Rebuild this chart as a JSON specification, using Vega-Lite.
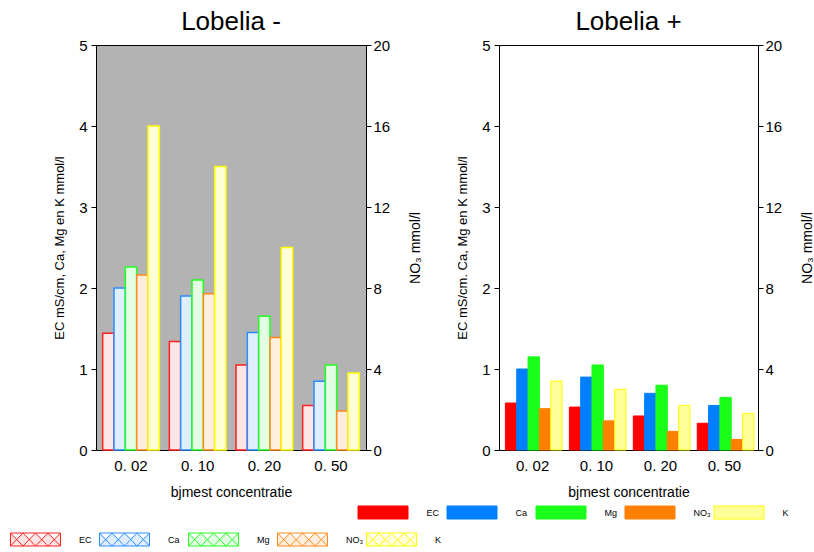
{
  "$schema": "https://vega.github.io/schema/vega-lite/v6.json",
  "padding": {"left": 9, "top": 8, "right": 5, "bottom": 3},
  "background": "white",
  "config": {
    "font": "Liberation Sans",
    "axis": {"grid": false, "domain": false, "tickColor": "black", "labelColor": "black", "titleColor": "black", "labelFont": "Liberation Sans", "titleFont": "Liberation Sans", "titleFontWeight": "normal"},
    "title": {"font": "Liberation Sans", "fontWeight": "normal", "fontSize": 26, "color": "black", "offset": 3}
  },
  "data": {"values": [
    {"panel": "minus", "conc": "0. 02", "series": "EC", "value": 1.44},
    {"panel": "minus", "conc": "0. 02", "series": "Ca", "value": 2.0},
    {"panel": "minus", "conc": "0. 02", "series": "Mg", "value": 2.26},
    {"panel": "minus", "conc": "0. 02", "series": "NO₃", "value": 2.16},
    {"panel": "minus", "conc": "0. 02", "series": "K", "value": 4.0},
    {"panel": "minus", "conc": "0. 10", "series": "EC", "value": 1.34},
    {"panel": "minus", "conc": "0. 10", "series": "Ca", "value": 1.9},
    {"panel": "minus", "conc": "0. 10", "series": "Mg", "value": 2.1},
    {"panel": "minus", "conc": "0. 10", "series": "NO₃", "value": 1.93},
    {"panel": "minus", "conc": "0. 10", "series": "K", "value": 3.5},
    {"panel": "minus", "conc": "0. 20", "series": "EC", "value": 1.05},
    {"panel": "minus", "conc": "0. 20", "series": "Ca", "value": 1.45},
    {"panel": "minus", "conc": "0. 20", "series": "Mg", "value": 1.65},
    {"panel": "minus", "conc": "0. 20", "series": "NO₃", "value": 1.39},
    {"panel": "minus", "conc": "0. 20", "series": "K", "value": 2.5},
    {"panel": "minus", "conc": "0. 50", "series": "EC", "value": 0.55},
    {"panel": "minus", "conc": "0. 50", "series": "Ca", "value": 0.85},
    {"panel": "minus", "conc": "0. 50", "series": "Mg", "value": 1.05},
    {"panel": "minus", "conc": "0. 50", "series": "NO₃", "value": 0.48},
    {"panel": "minus", "conc": "0. 50", "series": "K", "value": 0.95},
    {"panel": "plus", "conc": "0. 02", "series": "EC", "value": 0.58},
    {"panel": "plus", "conc": "0. 02", "series": "Ca", "value": 1.0},
    {"panel": "plus", "conc": "0. 02", "series": "Mg", "value": 1.15},
    {"panel": "plus", "conc": "0. 02", "series": "NO₃", "value": 0.51},
    {"panel": "plus", "conc": "0. 02", "series": "K", "value": 0.85},
    {"panel": "plus", "conc": "0. 10", "series": "EC", "value": 0.53},
    {"panel": "plus", "conc": "0. 10", "series": "Ca", "value": 0.9},
    {"panel": "plus", "conc": "0. 10", "series": "Mg", "value": 1.05},
    {"panel": "plus", "conc": "0. 10", "series": "NO₃", "value": 0.36},
    {"panel": "plus", "conc": "0. 10", "series": "K", "value": 0.75},
    {"panel": "plus", "conc": "0. 20", "series": "EC", "value": 0.42},
    {"panel": "plus", "conc": "0. 20", "series": "Ca", "value": 0.7},
    {"panel": "plus", "conc": "0. 20", "series": "Mg", "value": 0.8},
    {"panel": "plus", "conc": "0. 20", "series": "NO₃", "value": 0.23},
    {"panel": "plus", "conc": "0. 20", "series": "K", "value": 0.55},
    {"panel": "plus", "conc": "0. 50", "series": "EC", "value": 0.33},
    {"panel": "plus", "conc": "0. 50", "series": "Ca", "value": 0.55},
    {"panel": "plus", "conc": "0. 50", "series": "Mg", "value": 0.65},
    {"panel": "plus", "conc": "0. 50", "series": "NO₃", "value": 0.13},
    {"panel": "plus", "conc": "0. 50", "series": "K", "value": 0.45}
  ]},
  "bounds": "flush",
  "spacing": 133,
  "hconcat": [
    {
      "title": {"text": "Lobelia -"},
      "width": 270,
      "height": 405,
      "view": {"fill": "#b3b3b3", "stroke": "black", "strokeWidth": 1},
      "transform": [{"filter": "datum.panel == 'minus'"}],
      "layer": [
        {
          "mark": {"type": "bar", "strokeWidth": 1.5},
          "encoding": {
            "x": {"field": "conc", "type": "nominal", "sort": ["0. 02", "0. 10", "0. 20", "0. 50"],
              "scale": {"paddingInner": 0.15, "paddingOuter": 0.1},
              "axis": {"labelAngle": 0, "ticks": false, "labelFontSize": 15, "labelPadding": 8, "title": "bjmest   concentratie", "titleFontSize": 14, "titlePadding": 12}},
            "xOffset": {"field": "series", "type": "nominal", "sort": ["EC", "Ca", "Mg", "NO₃", "K"], "scale": {"paddingInner": 0, "paddingOuter": 0}},
            "y": {"field": "value", "type": "quantitative", "scale": {"domain": [0, 5], "nice": false},
              "axis": {"values": [0, 1, 2, 3, 4, 5], "tickSize": 5, "labelFontSize": 15, "labelPadding": 4, "title": "EC mS/cm,  Ca,  Mg en K mmol/l", "titleFontSize": 13, "titlePadding": 12}},
            "fill": {"field": "series", "type": "nominal",
              "scale": {"domain": ["EC", "Ca", "Mg", "NO₃", "K"], "range": ["#ffe6e6", "#e0efff", "#e3ffe3", "#ffeedd", "#ffffd8"]},
              "legend": {"orient": "none", "legendX": -86, "legendY": 469, "direction": "horizontal", "title": null, "gridAlign": "all", "columnPadding": 0, "padding": 0,
                "symbolType": "M-1,-0.26H1V0.26H-1Z M-1,-0.26L-0.5,0.26L0,-0.26L0.5,0.26L1,-0.26 M-1,0.26L-0.5,-0.26L0,0.26L0.5,-0.26L1,0.26",
                "symbolSize": 2500, "symbolStrokeWidth": 1, "labelFontSize": 9, "labelOffset": 18, "labelColor": "black"}},
            "stroke": {"field": "series", "type": "nominal",
              "scale": {"domain": ["EC", "Ca", "Mg", "NO₃", "K"], "range": ["#ff2020", "#2a8cff", "#22ff22", "#ff8a1a", "#ffff00"]},
              "legend": {"orient": "none", "legendX": -86, "legendY": 469, "direction": "horizontal", "title": null, "gridAlign": "all", "columnPadding": 0, "padding": 0,
                "symbolType": "M-1,-0.26H1V0.26H-1Z M-1,-0.26L-0.5,0.26L0,-0.26L0.5,0.26L1,-0.26 M-1,0.26L-0.5,-0.26L0,0.26L0.5,-0.26L1,0.26",
                "symbolSize": 2500, "symbolStrokeWidth": 1, "labelFontSize": 9, "labelOffset": 18, "labelColor": "black"}}
          }
        },
        {
          "mark": {"type": "rule", "opacity": 0},
          "encoding": {
            "y": {"datum": 0, "type": "quantitative", "scale": {"domain": [0, 20], "nice": false},
              "axis": {"orient": "right", "values": [0, 4, 8, 12, 16, 20], "tickSize": 5, "labelFontSize": 15, "labelPadding": 2, "title": "NO₃ mmol/l", "titleFontSize": 14, "titleAngle": 270, "titleBaseline": "top", "titlePadding": 19}}
          }
        }
      ],
      "resolve": {"scale": {"y": "independent"}}
    },
    {
      "title": {"text": "Lobelia +"},
      "width": 259,
      "height": 405,
      "view": {"fill": "white", "stroke": "black", "strokeWidth": 1},
      "transform": [{"filter": "datum.panel == 'plus'"}],
      "layer": [
        {
          "mark": {"type": "bar", "strokeWidth": 1},
          "encoding": {
            "x": {"field": "conc", "type": "nominal", "sort": ["0. 02", "0. 10", "0. 20", "0. 50"],
              "scale": {"paddingInner": 0.15, "paddingOuter": 0.1},
              "axis": {"labelAngle": 0, "ticks": false, "labelFontSize": 15, "labelPadding": 8, "title": "bjmest   concentratie", "titleFontSize": 14, "titlePadding": 12}},
            "xOffset": {"field": "series", "type": "nominal", "sort": ["EC", "Ca", "Mg", "NO₃", "K"], "scale": {"paddingInner": 0, "paddingOuter": 0}},
            "y": {"field": "value", "type": "quantitative", "scale": {"domain": [0, 5], "nice": false},
              "axis": {"values": [0, 1, 2, 3, 4, 5], "tickSize": 5, "labelFontSize": 15, "labelPadding": 4, "title": "EC mS/cm.  Ca,  Mg en K mmol/l", "titleFontSize": 13, "titlePadding": 12}},
            "fill": {"field": "series", "type": "nominal",
              "scale": {"domain": ["EC", "Ca", "Mg", "NO₃", "K"], "range": ["#ff0000", "#0080ff", "#1aff1a", "#ff8000", "#ffff99"]},
              "legend": {"orient": "none", "legendX": -141.5, "legendY": 442, "direction": "horizontal", "title": null, "gridAlign": "all", "columnPadding": 0, "padding": 0,
                "symbolType": "M-1,-0.26H1V0.26H-1Z", "symbolSize": 2500, "symbolStrokeWidth": 1, "labelFontSize": 9, "labelOffset": 18, "labelColor": "black"}},
            "stroke": {"field": "series", "type": "nominal",
              "scale": {"domain": ["EC", "Ca", "Mg", "NO₃", "K"], "range": ["#ff0000", "#0080ff", "#1aff1a", "#ff8000", "#ffff00"]},
              "legend": {"orient": "none", "legendX": -141.5, "legendY": 442, "direction": "horizontal", "title": null, "gridAlign": "all", "columnPadding": 0, "padding": 0,
                "symbolType": "M-1,-0.26H1V0.26H-1Z", "symbolSize": 2500, "symbolStrokeWidth": 1, "labelFontSize": 9, "labelOffset": 18, "labelColor": "black"}}
          }
        },
        {
          "mark": {"type": "rule", "opacity": 0},
          "encoding": {
            "y": {"datum": 0, "type": "quantitative", "scale": {"domain": [0, 20], "nice": false},
              "axis": {"orient": "right", "values": [0, 4, 8, 12, 16, 20], "tickSize": 5, "labelFontSize": 15, "labelPadding": 2, "title": "NO₃ mmol/l", "titleFontSize": 14, "titleAngle": 270, "titleBaseline": "top", "titlePadding": 19}}
          }
        }
      ],
      "resolve": {"scale": {"y": "independent"}}
    }
  ],
  "resolve": {"scale": {"fill": "independent", "stroke": "independent", "y": "independent"}, "legend": {"fill": "independent", "stroke": "independent"}}
}
